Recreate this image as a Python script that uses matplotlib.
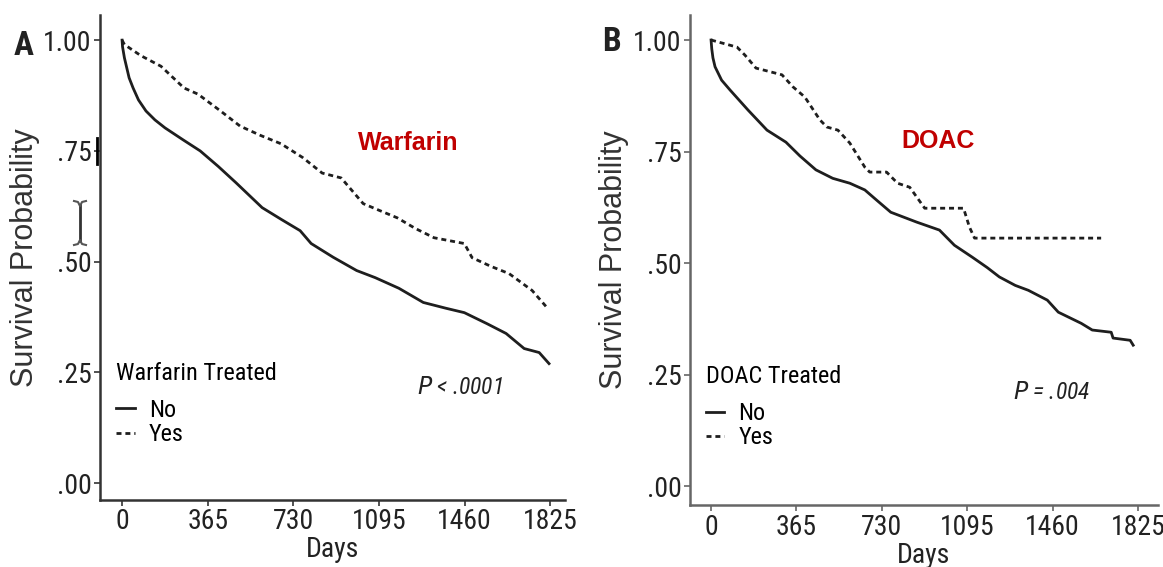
import matplotlib.pyplot as plt
from matplotlib.lines import Line2D

# Kaplan-Meier curves (days, survival probability)
warf_no_days = [0, 2, 10, 30, 47, 70, 102, 140, 183, 260, 333, 410, 486, 597, 680, 759,
                806, 900, 1000, 1079, 1180, 1284, 1380, 1459, 1556, 1637, 1714, 1778, 1820]
warf_no_surv = [1.00, 0.985, 0.96, 0.915, 0.892, 0.865, 0.840, 0.82, 0.802, 0.775, 0.750,
                0.715, 0.678, 0.622, 0.595, 0.570, 0.541, 0.51, 0.48, 0.464, 0.44, 0.408,
                0.395, 0.385, 0.360, 0.338, 0.304, 0.295, 0.270]

warf_yes_days = [0, 10, 80, 166, 264, 324, 420, 503, 590, 678, 770, 853, 934, 1028, 1100,
                 1173, 1250, 1330, 1459, 1492, 1570, 1650, 1748, 1812]
warf_yes_surv = [1.00, 0.99, 0.965, 0.941, 0.892, 0.878, 0.84, 0.806, 0.785, 0.766, 0.735,
                 0.700, 0.689, 0.631, 0.615, 0.599, 0.575, 0.554, 0.541, 0.509, 0.49, 0.473,
                 0.435, 0.396]

doac_no_days = [0, 3, 8, 17, 45, 81, 158, 239, 320, 380, 448, 520, 593, 657, 710, 768, 878,
                976, 1040, 1117, 1180, 1232, 1300, 1356, 1437, 1484, 1582, 1629, 1710, 1718,
                1791, 1804]
doac_no_surv = [1.00, 0.98, 0.96, 0.94, 0.91, 0.888, 0.843, 0.798, 0.771, 0.74, 0.709, 0.69,
                0.679, 0.664, 0.64, 0.614, 0.592, 0.574, 0.540, 0.513, 0.49, 0.469, 0.45,
                0.439, 0.417, 0.390, 0.365, 0.350, 0.345, 0.332, 0.327, 0.316]

doac_yes_days = [0, 111, 145, 192, 222, 303, 350, 401, 465, 495, 542, 593, 657, 678, 750,
                 797, 849, 913, 1079, 1104, 1126, 1667]
doac_yes_surv = [1.0, 0.984, 0.966, 0.937, 0.933, 0.922, 0.895, 0.872, 0.821, 0.805, 0.798,
                 0.769, 0.715, 0.704, 0.704, 0.679, 0.670, 0.623, 0.623, 0.581, 0.556, 0.556]

x_ticks = [0, 365, 730, 1095, 1460, 1825]
y_ticks = [0.0, 0.25, 0.5, 0.75, 1.0]
y_ticklabels = ['.00', '.25', '.50', '.75', '1.00']

NARROW = ['Roboto Condensed', 'Liberation Sans Narrow', 'Liberation Sans', 'DejaVu Sans']
REG = ['Liberation Sans', 'DejaVu Sans']
LINE_COL = '#1e1e1e'
RED = '#c00000'
TXT = '#222222'

W, H = 1163, 567
fig = plt.figure(figsize=(W / 100, H / 100), dpi=100)


def km_panel(rect, xlim, ylim, no, yes, title, legend_title, ptext, label_pos, p_pos,
             axis_col, leg_y):
    ax = fig.add_axes(rect)
    ax.plot(no[0], no[1], color=LINE_COL, lw=2.0, label='No')
    ax.plot(yes[0], yes[1], color=LINE_COL, lw=2.0, ls=(0, (1.8, 1.4)), label='Yes')
    ax.set_xlim(*xlim)
    ax.set_ylim(*ylim)
    ax.set_xticks(x_ticks)
    ax.set_xticklabels([str(t) for t in x_ticks], family=NARROW, fontsize=20, color=TXT)
    ax.set_yticks(y_ticks)
    ax.set_yticklabels(y_ticklabels, family=NARROW, fontsize=20, color=TXT)
    for s in ['top', 'right']:
        ax.spines[s].set_visible(False)
    for s in ['left', 'bottom']:
        ax.spines[s].set_color(axis_col)
        ax.spines[s].set_linewidth(1.8)
    ax.tick_params(length=4, width=1.2, color=axis_col, pad=2)
    ax.set_xlabel('Days', family=NARROW, fontsize=20, color=TXT)
    ax.set_ylabel('Survival Probability', family=REG, fontsize=22, color='#333333')
    ax.yaxis.set_label_coords(-0.13, 0.5)
    ax.xaxis.set_label_coords(0.5, -0.075)
    ax.text(label_pos[0], label_pos[1], title, color=RED, fontsize=18, fontweight='bold',
            family=REG, ha='center', va='center')
    ax.text(p_pos[0], p_pos[1], ptext, fontsize=17, style='italic', family=NARROW,
            ha='center', va='center', color=TXT)
    leg = ax.legend(title=legend_title, loc='upper left', bbox_to_anchor=(-0.012, leg_y),
                    frameon=False, handlelength=0.75, handletextpad=0.58, labelspacing=0.05,
                    alignment='left', prop={'family': NARROW, 'size': 17.5})
    leg.get_title().set_fontfamily(NARROW)
    leg.get_title().set_fontsize(17.5)
    leg._legend_box.sep = 10
    return ax


km_panel([0.086, 0.118, 0.400, 0.855], (-94, 1889), (-0.038, 1.056),
         (warf_no_days, warf_no_surv), (warf_yes_days, warf_yes_surv),
         'Warfarin', 'Warfarin Treated', '$P$ < .0001', (1219, 0.767), (1441, 0.217),
         '#333333', 0.33)
km_panel([0.5933, 0.109, 0.4024, 0.8645], (-90, 1910), (-0.0426, 1.056),
         (doac_no_days, doac_no_surv), (doac_yes_days, doac_yes_surv),
         'DOAC', 'DOAC Treated', '$P$ = .004', (970, 0.774), (1457, 0.211),
         '#666666', 0.33)

fig.text(0.0206, 0.919, 'A', family=NARROW, fontsize=24, fontweight='bold',
         ha='center', va='center', color=TXT)
fig.text(0.526, 0.926, 'B', family=NARROW, fontsize=24, fontweight='bold',
         ha='center', va='center', color=TXT)


# text-cursor marks visible in the left panel of the source image (pixel positions)
def px_line(xs, ys, **kw):
    fig.add_artist(Line2D([x / W for x in xs], [1 - y / H for y in ys], **kw))


px_line([97, 97], [138, 164], color='black', lw=2)
px_line([80, 80], [205, 241], color='#333333', lw=2)
px_line([74, 78, 80, 82, 86], [201, 202, 206, 202, 201], color='#555555', lw=1.5)
px_line([74, 78, 80, 82, 86], [245, 244, 240, 244, 245], color='#555555', lw=1.5)

fig.savefig('out.png', dpi=100)
